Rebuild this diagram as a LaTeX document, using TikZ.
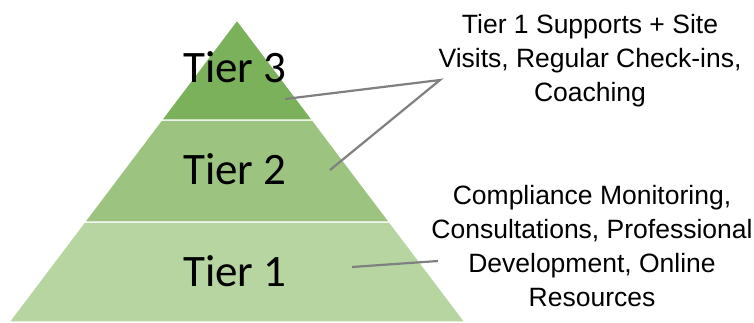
\documentclass[tikz,border=0pt]{standalone}
\usepackage{fontspec}
\newfontfamily\tierfont{Carlito}
\newfontfamily\notefont{Liberation Sans}
\usepackage{tikz}
\usetikzlibrary{
    calc,
    positioning
}

\begin{document}
\begin{tikzpicture}[
    x=1bp, y=1bp,
    tier/.style={
        draw=white,
        line width=1.2bp,
        line join=miter
    },
    tierlabel/.style={
        font=\tierfont\fontsize{45bp}{54bp}\selectfont,
        anchor=base,
        inner sep=0pt
    },
    note/.style={
        font=\notefont\fontsize{26.5bp}{34bp}\selectfont,
        align=center,
        anchor=center,
        inner sep=0pt
    },
    leader/.style={
        draw=lead,
        line width=2.2bp
    }]
    \definecolor{t3}{RGB}{122, 177, 90}
    \definecolor{t2}{RGB}{157, 195, 128}
    \definecolor{t1}{RGB}{182, 213, 161}
    \definecolor{lead}{RGB}{128, 128, 128}

    \useasboundingbox (0,0) rectangle (754,322);

    % pyramid
    \fill[t1, tier] (9,0) -- (465,0) -- (389.5,100) -- (84.5,100) -- cycle;
    \fill[t2, tier] (84.5,100) -- (389.5,100) -- (312.5,202) -- (161.5,202) -- cycle;
    \fill[t3, tier] (161.5,202) -- (312.5,202) -- (237,302) -- cycle;

    \node[tierlabel] (lab3) at (235,240) {Tier 3};
    \node[tierlabel] (lab2) at (235,138) {Tier 2};
    \node[tierlabel] (lab1) at (235,36) {Tier 1};

    \node[note] (upper) at (590,261) {Tier 1 Supports + Site\\Visits, Regular Check-ins,\\Coaching};
    \node[note] (lower) at (592,75.5) {Compliance Monitoring,\\Consultations, Professional\\Development, Online\\Resources};

    \coordinate (hub) at (440,242);
    \coordinate (hubl) at (438,61);
    \coordinate (pin3) at (285,223);
    \coordinate (pin2) at (330,152);
    \coordinate (pin1) at (352,55);

    \draw[leader] (pin3) -- (hub) -- (pin2);
    \draw[leader] (pin1) -- (hubl);

    \end{tikzpicture}
\end{document}
